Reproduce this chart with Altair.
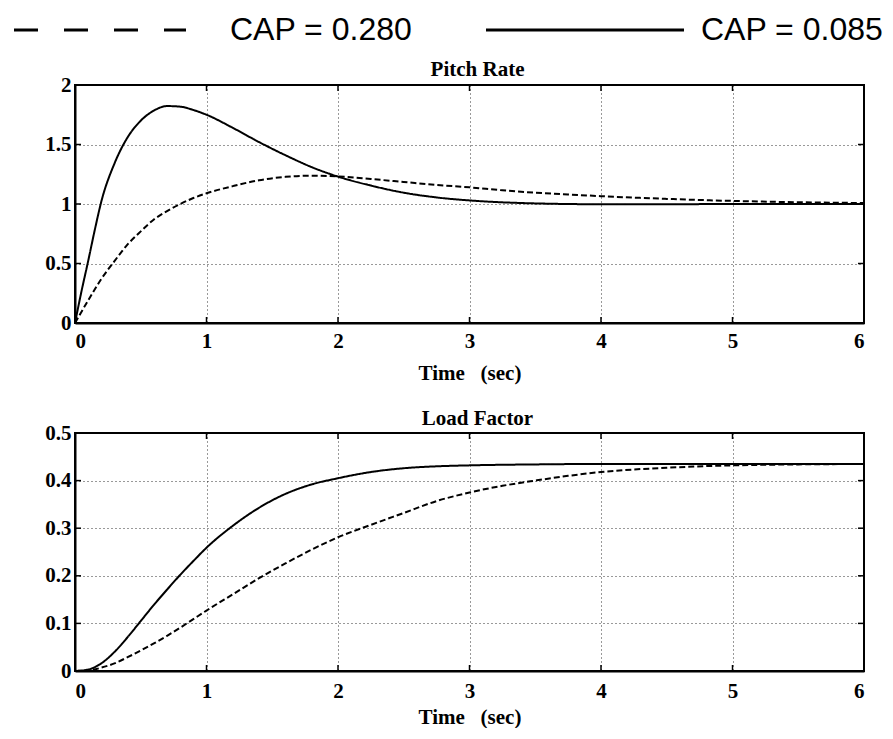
import altair as alt
import pandas as pd

# ---------------- data ----------------
# Pitch Rate, CAP = 0.085 (solid)
pr_solid_t = [0, 0.05, 0.1, 0.15, 0.2, 0.3, 0.4, 0.5, 0.6, 0.7, 0.8, 0.9, 1.0, 1.2, 1.4,
              1.6, 1.8, 2.0, 2.25, 2.5, 2.75, 3.0, 3.5, 4.0, 4.5, 5.0, 5.5, 6.0]
pr_solid_v = [0, 0.27, 0.52, 0.78, 1.02, 1.34, 1.56, 1.70, 1.785, 1.823, 1.818, 1.79, 1.75, 1.64, 1.52,
              1.41, 1.31, 1.23, 1.155, 1.095, 1.055, 1.03, 1.005, 0.998, 0.998, 1.0, 1.0, 1.0]
# Pitch Rate, CAP = 0.280 (dashed)
pr_dash_t = [0, 0.1, 0.2, 0.3, 0.4, 0.5, 0.6, 0.7, 0.8, 0.9, 1.0, 1.2, 1.4, 1.6, 1.8, 2.0,
             2.25, 2.5, 2.75, 3.0, 3.25, 3.5, 3.75, 4.0, 4.5, 5.0, 5.5, 6.0]
pr_dash_v = [0, 0.19, 0.37, 0.52, 0.66, 0.77, 0.87, 0.94, 1.0, 1.05, 1.09, 1.15, 1.20, 1.228, 1.238, 1.232,
             1.21, 1.185, 1.16, 1.14, 1.115, 1.095, 1.08, 1.066, 1.043, 1.026, 1.015, 1.008]
# Load Factor, CAP = 0.085 (solid)
lf_solid_t = [0, 0.1, 0.2, 0.3, 0.4, 0.5, 0.6, 0.7, 0.8, 0.9, 1.0, 1.2, 1.4, 1.6, 1.8, 2.0,
              2.25, 2.5, 2.75, 3.0, 3.5, 4.0, 5.0, 6.0]
lf_solid_v = [0, 0.003, 0.016, 0.040, 0.071, 0.105, 0.139, 0.171, 0.202, 0.231, 0.259, 0.305, 0.343, 0.372, 0.392, 0.405,
              0.418, 0.426, 0.430, 0.432, 0.434, 0.435, 0.435, 0.435]
# Load Factor, CAP = 0.280 (dashed)
lf_dash_t = [0, 0.1, 0.2, 0.3, 0.4, 0.5, 0.6, 0.7, 0.8, 0.9, 1.0, 1.2, 1.4, 1.6, 1.8, 2.0,
             2.25, 2.5, 2.75, 3.0, 3.25, 3.5, 3.75, 4.0, 4.5, 5.0, 5.5, 6.0]
lf_dash_v = [0, 0.001, 0.007, 0.016, 0.029, 0.043, 0.058, 0.074, 0.091, 0.109, 0.127, 0.161, 0.195, 0.226, 0.255, 0.281,
             0.307, 0.332, 0.357, 0.375, 0.389, 0.400, 0.41, 0.418, 0.427, 0.432, 0.434, 0.435]

series_names = ["CAP = 0.280", "CAP = 0.085"]
panel_titles = ["Pitch Rate", "Load Factor"]
x_title = "Time\u00a0\u00a0\u00a0(sec)"
x_ticks = [0, 1, 2, 3, 4, 5, 6]
pr_y_ticks = [0, 0.5, 1, 1.5, 2]
lf_y_ticks = [0, 0.1, 0.2, 0.3, 0.4, 0.5]

W, H = 789, 238
SERIF = "Liberation Serif"
SANS = "Liberation Sans"


def make_df(t1, v1, t2, v2):
    rows = [{"t": a, "v": b, "cap": series_names[0]} for a, b in zip(t1, v1)]
    rows += [{"t": a, "v": b, "cap": series_names[1]} for a, b in zip(t2, v2)]
    return pd.DataFrame(rows)


def panel(df, title, ydom, yticks, title_pad, label_pad, title_y, legend=False):
    xs = alt.Scale(domain=[0, 6], nice=False, zero=False)
    ys = alt.Scale(domain=ydom, nice=False, zero=False)
    xax = alt.Axis(values=x_ticks, title=x_title, labelPadding=label_pad, titlePadding=title_pad)
    yax = alt.Axis(values=yticks, format="~g", title=None, minExtent=66, maxExtent=66, labelPadding=4)
    X = lambda: alt.X("t:Q", scale=xs, axis=xax)
    Y = lambda: alt.Y("v:Q", scale=ys, axis=yax)
    lines = alt.Chart(df).mark_line(color="black", strokeWidth=2, interpolate="monotone").encode(
        x=X(), y=Y(),
        strokeDash=alt.StrokeDash("cap:N", scale=alt.Scale(domain=series_names, range=[[6, 3], [1, 0]]),
                                  legend=None),
    )
    inner_x = pd.DataFrame({"t": x_ticks[1:-1]})
    inner_y = pd.DataFrame({"v": yticks[1:-1]})
    tk = dict(color="black", strokeWidth=1.5)
    xb = alt.Chart(inner_x).mark_rule(**tk).encode(x=X(), y=alt.value(H), y2=alt.value(H - 6))
    xt = alt.Chart(inner_x).mark_rule(**tk).encode(x=X(), y=alt.value(0), y2=alt.value(6))
    yl = alt.Chart(inner_y).mark_rule(**tk).encode(y=Y(), x=alt.value(0), x2=alt.value(6))
    yr = alt.Chart(inner_y).mark_rule(**tk).encode(y=Y(), x=alt.value(W - 6), x2=alt.value(W))
    ttl = alt.Chart(pd.DataFrame({"title": [title]})).mark_text(
        font=SERIF, fontSize=21, fontWeight="bold", color="black", align="center", baseline="bottom").encode(
        text="title:N", x=alt.value(W / 2 + 8), y=alt.value(title_y))
    layers = [lines, xb, xt, yl, yr, ttl]
    if legend:
        ly = -55
        leg_dash = alt.Chart(pd.DataFrame({"cap": [series_names[0]]})).mark_rule(
            color="black", strokeWidth=3, strokeDash=[24, 26]).encode(
            x=alt.value(13 - 74), x2=alt.value(185 - 74), y=alt.value(ly))
        leg_solid = alt.Chart(pd.DataFrame({"cap": [series_names[1]]})).mark_rule(
            color="black", strokeWidth=3).encode(
            x=alt.value(485 - 74), x2=alt.value(683 - 74), y=alt.value(ly))
        txt1 = alt.Chart(pd.DataFrame({"cap": [series_names[0]]})).mark_text(
            font=SANS, fontSize=32, align="left", baseline="middle", color="black").encode(
            text="cap:N", x=alt.value(229 - 74), y=alt.value(ly))
        txt2 = alt.Chart(pd.DataFrame({"cap": [series_names[1]]})).mark_text(
            font=SANS, fontSize=32, align="left", baseline="middle", color="black").encode(
            text="cap:N", x=alt.value(700 - 74), y=alt.value(ly))
        layers += [leg_dash, leg_solid, txt1, txt2]
    return alt.layer(*layers).properties(width=W, height=H)


top = panel(make_df(pr_dash_t, pr_dash_v, pr_solid_t, pr_solid_v), panel_titles[0],
            [0, 2], pr_y_ticks, title_pad=11, label_pad=7, title_y=-5, legend=True)
bottom = panel(make_df(lf_dash_t, lf_dash_v, lf_solid_t, lf_solid_v), panel_titles[1],
               [0, 0.5], lf_y_ticks, title_pad=5, label_pad=9, title_y=-4)

chart = alt.vconcat(top, bottom, spacing=23).properties(
    padding={"left": 0, "top": 5, "right": 0, "bottom": 0},
    background="white",
).configure_view(stroke="black", strokeWidth=2).configure_axis(
    labelFont=SERIF, labelFontSize=21, labelFontWeight="bold", labelColor="black",
    titleFont=SERIF, titleFontSize=21, titleFontWeight="bold", titleColor="black",
    domainColor="black", domainWidth=2, ticks=False,
    grid=True, gridColor="black", gridDash=[1, 3], gridOpacity=0.8, gridWidth=1,
)

chart.save("out.html", embed_options={"renderer": "svg", "actions": False})
